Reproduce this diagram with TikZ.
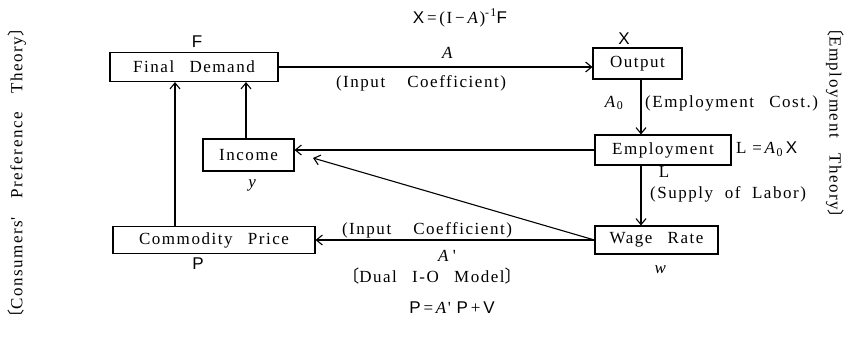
\documentclass[tikz,border=0pt]{standalone}
\usepackage{fontspec}
\setmainfont{Liberation Serif}[LetterSpace=9]
\newfontfamily\sansf{Liberation Sans}
\newfontfamily\cjk{Noto Sans CJK JP}
\usetikzlibrary{arrows.meta}
\newcommand\wg{\hspace{0.9em}}
\newcommand\wgg{\hspace{1.3em}}
\newcommand\lb{{\cjk 〔}}
\newcommand\rb{{\cjk 〕}}
\tikzset{
  box/.style={draw, line width=1.1pt, inner sep=0pt, font=\fontsize{17}{19}\selectfont},
  lbl/.style={inner sep=0pt, font=\fontsize{17}{19}\selectfont},
  conn/.style={line width=1.1pt, -{Straight Barb[length=6pt,width=10pt,line width=1.1pt]}},
}
\begin{document}
\begin{tikzpicture}[x=1pt,y=-1pt]
\useasboundingbox (0,0) rectangle (846,338);
% boxes
\node[box, minimum width=168pt, minimum height=29pt] (fd) at (194,67) {Final\wg Demand};
\node[box, minimum width=89pt, minimum height=31pt] (out) at (637.5,63.5) {Output};
\node[box, minimum width=136pt, minimum height=30pt] (emp) at (663,150) {Employment};
\node[box, minimum width=91pt, minimum height=32pt] (inc) at (248.5,155) {Income};
\node[box, minimum width=202pt, minimum height=27pt] (cp) at (214,240) {Commodity\wg Price};
\node[box, minimum width=123pt, minimum height=28pt] (wr) at (656.5,240) {Wage\wg Rate};
\coordinate (diagend) at (313,158);
\coordinate (vx1) at (175,0);
\coordinate (vx2) at (641,0);
% connectors
\draw[conn] (fd.east) -- (fd.east -| out.west);
\draw[conn] (out.south -| vx2) -- (emp.north -| vx2);
\draw[conn] (emp.south -| vx2) -- (wr.north -| vx2);
\draw[conn] (emp.west) -- (emp.west -| inc.east);
\draw[conn] (wr.west) -- (diagend);
\draw[conn] (wr.west) -- (wr.west -| cp.east);
\draw[conn] (cp.north -| vx1) -- (fd.south -| vx1);
\draw[conn] (inc.north -| 246,0) -- (fd.south -| 246,0);
% labels
\node[lbl] (eqx) at (460,18) {{\sansf X}\,=\,(I\,−\,\textit{A})\textsuperscript{-1}{\sansf F}};
\node[lbl] (lf) at (197,42) {\sansf F};
\node[lbl] (lx) at (624,39) {\sansf X};
\node[lbl] (la) at (448,53) {\textit{A}};
\node[lbl] (ic1) at (421,83) {(Input\wgg Coefficient)};
\node[lbl] (la0) at (614,103) {\textit{A}\textsubscript{0}};
\node[lbl, anchor=west] (ec) at (645,103) {(Employment\wg Cost.)};
\node[lbl, anchor=west] (leq) at (736,149) {L\,\,=\,\textit{A}\textsubscript{0}\,{\sansf X}};
\node[lbl] (ll) at (664,172) {L};
\node[lbl, anchor=west] (sl) at (650,194) {(Supply\ \ of\ \ Labor)};
\node[lbl] (ly) at (253,185) {\textit{y}};
\node[lbl] (ic2) at (427,230) {(Input\wgg Coefficient)};
\node[lbl] (lap) at (447,256) {\textit{A}\,\textquotesingle};
\node[lbl] (lp) at (198,264) {\sansf P};
\node[lbl] (lw) at (661,270) {\textit{w}};
\node[lbl] (dual) at (432,276) {\lb Dual\wg I-O\wg Model\rb};
\node[lbl] (eqp) at (452,308) {{\sansf P}\,=\,\textit{A}\textquotesingle\ {\sansf P}\,+\,{\sansf V}};
\node[lbl, rotate=90] (cpt) at (17,173) {\lb Consumers\textquotesingle\hspace{1.1em}Preference\hspace{1.1em}Theory\rb};
\node[lbl, rotate=-90] (et) at (835,123) {\lb Employment\wg Theory\rb};
\end{tikzpicture}
\end{document}
